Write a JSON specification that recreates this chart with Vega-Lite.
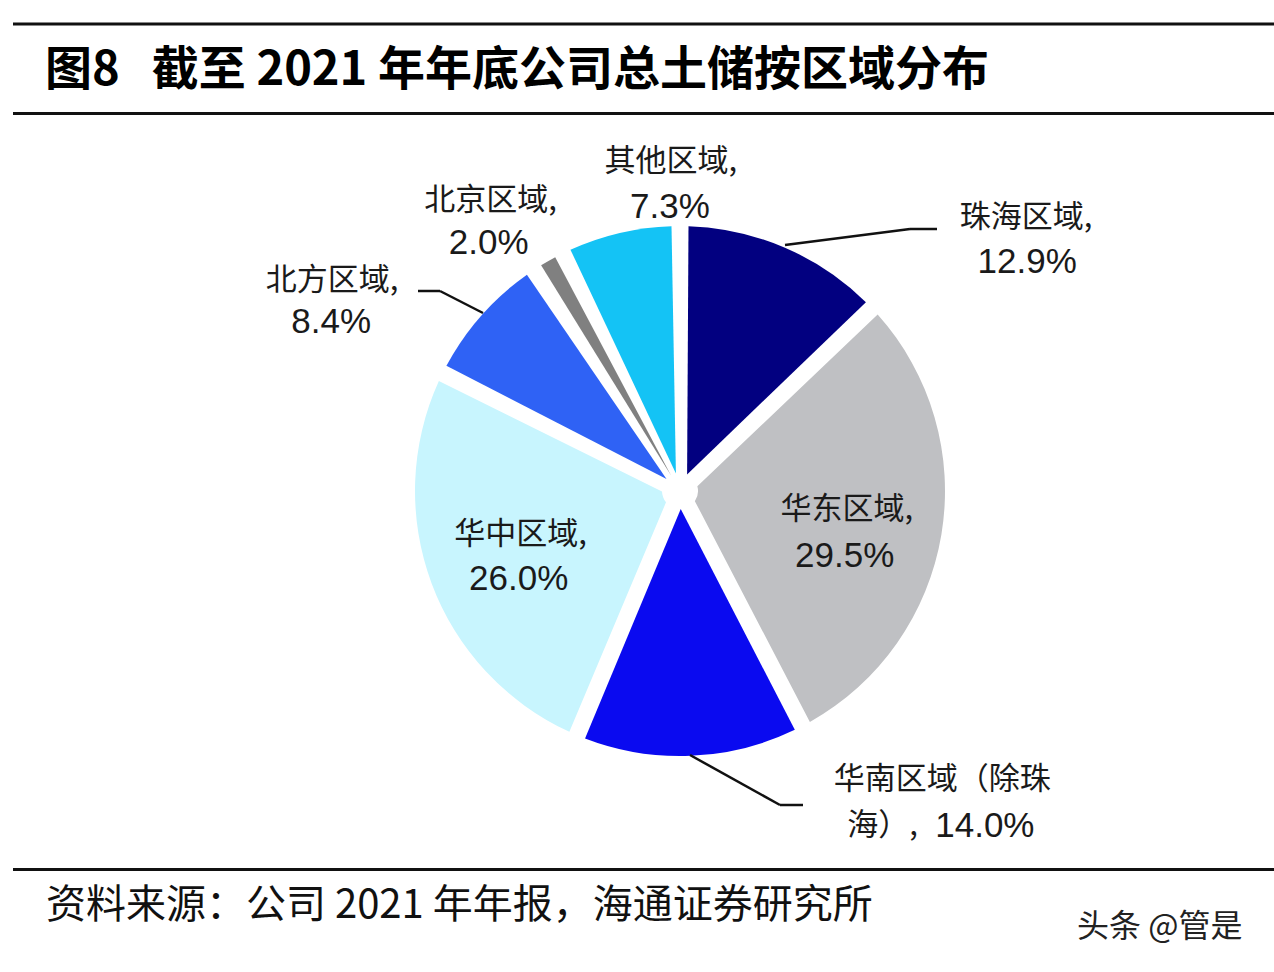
{
  "$schema": "https://vega.github.io/schema/vega-lite/v6.json",
  "width": 1274,
  "height": 972,
  "autosize": "none",
  "padding": 0,
  "background": "#ffffff",
  "config": {"view": {"stroke": null}},
  "data": {
    "values": [
      {"region": "珠海区域", "order": 1, "value": 12.9, "line1": "珠海区域,", "pct": "12.9%"},
      {"region": "华东区域", "order": 2, "value": 29.5, "line1": "华东区域,", "pct": "29.5%"},
      {"region": "华南区域（除珠海）", "order": 3, "value": 14.0, "line1": "华南区域（除珠", "line2": "海）,", "pct": "14.0%"},
      {"region": "华中区域", "order": 4, "value": 26.0, "line1": "华中区域,", "pct": "26.0%"},
      {"region": "北方区域", "order": 5, "value": 8.4, "line1": "北方区域,", "pct": "8.4%"},
      {"region": "北京区域", "order": 6, "value": 2.0, "line1": "北京区域,", "pct": "2.0%"},
      {"region": "其他区域", "order": 7, "value": 7.3, "line1": "其他区域,", "pct": "7.3%"}
    ]
  },
  "layer": [
    {
      "mark": {"type": "arc", "outerRadius": 265, "innerRadius": 18, "padAngle": 0.064, "stroke": null},
      "encoding": {
        "x": {"value": 680}, "y": {"value": 491},
        "theta": {"field": "value", "type": "quantitative", "stack": true},
        "order": {"field": "order", "type": "quantitative"},
        "color": {
          "field": "region", "type": "nominal", "legend": null,
          "scale": {
            "domain": ["珠海区域", "华东区域", "华南区域（除珠海）", "华中区域", "北方区域", "北京区域", "其他区域"],
            "range": ["#020080", "#bfc0c3", "#0a0af0", "#c8f5fe", "#2f62f5", "#808080", "#14c3f5"]
          }
        }
      }
    },
    {"mark": {"type": "text", "radius": 300, "dx": 228, "dy": 3, "font": "Noto Sans CJK SC", "fontSize": 31, "fill": "#1a1a1a", "align": "center", "baseline": "middle"},
     "encoding": {"x": {"value": 680}, "y": {"value": 491}, "theta": {"field": "value", "type": "quantitative", "stack": true}, "order": {"field": "order", "type": "quantitative"},
       "text": {"condition": {"test": "datum.region === '珠海区域'", "field": "line1", "type": "nominal"}, "value": ""}}},
    {"mark": {"type": "text", "radius": 300, "dx": 229, "dy": 47, "font": "Liberation Sans", "fontSize": 35, "fill": "#1a1a1a", "align": "center", "baseline": "middle"},
     "encoding": {"x": {"value": 680}, "y": {"value": 491}, "theta": {"field": "value", "type": "quantitative", "stack": true}, "order": {"field": "order", "type": "quantitative"},
       "text": {"condition": {"test": "datum.region === '珠海区域'", "field": "pct", "type": "nominal"}, "value": ""}}},
    {"mark": {"type": "text", "radius": 170, "dx": -1, "dy": -9, "font": "Noto Sans CJK SC", "fontSize": 31, "fill": "#1a1a1a", "align": "center", "baseline": "middle"},
     "encoding": {"x": {"value": 680}, "y": {"value": 491}, "theta": {"field": "value", "type": "quantitative", "stack": true}, "order": {"field": "order", "type": "quantitative"},
       "text": {"condition": {"test": "datum.region === '华东区域'", "field": "line1", "type": "nominal"}, "value": ""}}},
    {"mark": {"type": "text", "radius": 170, "dx": -3, "dy": 37, "font": "Liberation Sans", "fontSize": 35, "fill": "#1a1a1a", "align": "center", "baseline": "middle"},
     "encoding": {"x": {"value": 680}, "y": {"value": 491}, "theta": {"field": "value", "type": "quantitative", "stack": true}, "order": {"field": "order", "type": "quantitative"},
       "text": {"condition": {"test": "datum.region === '华东区域'", "field": "pct", "type": "nominal"}, "value": ""}}},
    {"mark": {"type": "text", "radius": 300, "dx": 250, "dy": -11, "font": "Noto Sans CJK SC", "fontSize": 31, "fill": "#1a1a1a", "align": "center", "baseline": "middle"},
     "encoding": {"x": {"value": 680}, "y": {"value": 491}, "theta": {"field": "value", "type": "quantitative", "stack": true}, "order": {"field": "order", "type": "quantitative"},
       "text": {"condition": {"test": "datum.region === '华南区域（除珠海）'", "field": "line1", "type": "nominal"}, "value": ""}}},
    {"mark": {"type": "text", "radius": 300, "dx": 155, "dy": 35, "font": "Noto Sans CJK SC", "fontSize": 31, "fill": "#1a1a1a", "align": "left", "baseline": "middle"},
     "encoding": {"x": {"value": 680}, "y": {"value": 491}, "theta": {"field": "value", "type": "quantitative", "stack": true}, "order": {"field": "order", "type": "quantitative"},
       "text": {"condition": {"test": "datum.region === '华南区域（除珠海）'", "field": "line2", "type": "nominal"}, "value": ""}}},
    {"mark": {"type": "text", "radius": 300, "dx": 243, "dy": 35, "font": "Liberation Sans", "fontSize": 35, "fill": "#1a1a1a", "align": "left", "baseline": "middle"},
     "encoding": {"x": {"value": 680}, "y": {"value": 491}, "theta": {"field": "value", "type": "quantitative", "stack": true}, "order": {"field": "order", "type": "quantitative"},
       "text": {"condition": {"test": "datum.region === '华南区域（除珠海）'", "field": "pct", "type": "nominal"}, "value": ""}}},
    {"mark": {"type": "text", "radius": 170, "dx": 0, "dy": -15, "font": "Noto Sans CJK SC", "fontSize": 31, "fill": "#1a1a1a", "align": "center", "baseline": "middle"},
     "encoding": {"x": {"value": 680}, "y": {"value": 491}, "theta": {"field": "value", "type": "quantitative", "stack": true}, "order": {"field": "order", "type": "quantitative"},
       "text": {"condition": {"test": "datum.region === '华中区域'", "field": "line1", "type": "nominal"}, "value": ""}}},
    {"mark": {"type": "text", "radius": 170, "dx": -2, "dy": 29, "font": "Liberation Sans", "fontSize": 35, "fill": "#1a1a1a", "align": "center", "baseline": "middle"},
     "encoding": {"x": {"value": 680}, "y": {"value": 491}, "theta": {"field": "value", "type": "quantitative", "stack": true}, "order": {"field": "order", "type": "quantitative"},
       "text": {"condition": {"test": "datum.region === '华中区域'", "field": "pct", "type": "nominal"}, "value": ""}}},
    {"mark": {"type": "text", "radius": 300, "dx": -123, "dy": -11, "font": "Noto Sans CJK SC", "fontSize": 31, "fill": "#1a1a1a", "align": "center", "baseline": "middle"},
     "encoding": {"x": {"value": 680}, "y": {"value": 491}, "theta": {"field": "value", "type": "quantitative", "stack": true}, "order": {"field": "order", "type": "quantitative"},
       "text": {"condition": {"test": "datum.region === '北方区域'", "field": "line1", "type": "nominal"}, "value": ""}}},
    {"mark": {"type": "text", "radius": 300, "dx": -124, "dy": 30, "font": "Liberation Sans", "fontSize": 35, "fill": "#1a1a1a", "align": "center", "baseline": "middle"},
     "encoding": {"x": {"value": 680}, "y": {"value": 491}, "theta": {"field": "value", "type": "quantitative", "stack": true}, "order": {"field": "order", "type": "quantitative"},
       "text": {"condition": {"test": "datum.region === '北方区域'", "field": "pct", "type": "nominal"}, "value": ""}}},
    {"mark": {"type": "text", "radius": 300, "dx": -40, "dy": -30, "font": "Noto Sans CJK SC", "fontSize": 31, "fill": "#1a1a1a", "align": "center", "baseline": "middle"},
     "encoding": {"x": {"value": 680}, "y": {"value": 491}, "theta": {"field": "value", "type": "quantitative", "stack": true}, "order": {"field": "order", "type": "quantitative"},
       "text": {"condition": {"test": "datum.region === '北京区域'", "field": "line1", "type": "nominal"}, "value": ""}}},
    {"mark": {"type": "text", "radius": 300, "dx": -42, "dy": 12, "font": "Liberation Sans", "fontSize": 35, "fill": "#1a1a1a", "align": "center", "baseline": "middle"},
     "encoding": {"x": {"value": 680}, "y": {"value": 491}, "theta": {"field": "value", "type": "quantitative", "stack": true}, "order": {"field": "order", "type": "quantitative"},
       "text": {"condition": {"test": "datum.region === '北京区域'", "field": "pct", "type": "nominal"}, "value": ""}}},
    {"mark": {"type": "text", "radius": 300, "dx": 59, "dy": -37, "font": "Noto Sans CJK SC", "fontSize": 31, "fill": "#1a1a1a", "align": "center", "baseline": "middle"},
     "encoding": {"x": {"value": 680}, "y": {"value": 491}, "theta": {"field": "value", "type": "quantitative", "stack": true}, "order": {"field": "order", "type": "quantitative"},
       "text": {"condition": {"test": "datum.region === '其他区域'", "field": "line1", "type": "nominal"}, "value": ""}}},
    {"mark": {"type": "text", "radius": 300, "dx": 58, "dy": 8, "font": "Liberation Sans", "fontSize": 35, "fill": "#1a1a1a", "align": "center", "baseline": "middle"},
     "encoding": {"x": {"value": 680}, "y": {"value": 491}, "theta": {"field": "value", "type": "quantitative", "stack": true}, "order": {"field": "order", "type": "quantitative"},
       "text": {"condition": {"test": "datum.region === '其他区域'", "field": "pct", "type": "nominal"}, "value": ""}}},
    {"data": {"values": [{}]}, "mark": {"type": "rule", "stroke": "#111111", "strokeWidth": 2.5}, "encoding": {"x": {"value": 785}, "y": {"value": 245}, "x2": {"value": 910}, "y2": {"value": 229}}},
    {"data": {"values": [{}]}, "mark": {"type": "rule", "stroke": "#111111", "strokeWidth": 2.5}, "encoding": {"x": {"value": 910}, "y": {"value": 229}, "x2": {"value": 937}, "y2": {"value": 229}}},
    {"data": {"values": [{}]}, "mark": {"type": "rule", "stroke": "#111111", "strokeWidth": 2.5}, "encoding": {"x": {"value": 418}, "y": {"value": 291}, "x2": {"value": 440}, "y2": {"value": 291}}},
    {"data": {"values": [{}]}, "mark": {"type": "rule", "stroke": "#111111", "strokeWidth": 2.5}, "encoding": {"x": {"value": 440}, "y": {"value": 291}, "x2": {"value": 483}, "y2": {"value": 313}}},
    {"data": {"values": [{}]}, "mark": {"type": "rule", "stroke": "#111111", "strokeWidth": 2.5}, "encoding": {"x": {"value": 690}, "y": {"value": 755}, "x2": {"value": 780}, "y2": {"value": 805}}},
    {"data": {"values": [{}]}, "mark": {"type": "rule", "stroke": "#111111", "strokeWidth": 2.5}, "encoding": {"x": {"value": 780}, "y": {"value": 805}, "x2": {"value": 803}, "y2": {"value": 805}}},
    {"data": {"values": [{}]}, "mark": {"type": "rule", "stroke": "#111111", "strokeWidth": 3}, "encoding": {"x": {"value": 13}, "y": {"value": 24}, "x2": {"value": 1274}, "y2": {"value": 24}}},
    {"data": {"values": [{}]}, "mark": {"type": "rule", "stroke": "#111111", "strokeWidth": 3}, "encoding": {"x": {"value": 13}, "y": {"value": 113.5}, "x2": {"value": 1274}, "y2": {"value": 113.5}}},
    {"data": {"values": [{}]}, "mark": {"type": "rule", "stroke": "#111111", "strokeWidth": 3}, "encoding": {"x": {"value": 13}, "y": {"value": 869.5}, "x2": {"value": 1274}, "y2": {"value": 869.5}}},
    {"data": {"values": [{}]}, "mark": {"type": "text", "text": "图8\u00a0\u00a0\u00a0截至 2021 年年底公司总土储按区域分布", "font": "Noto Sans CJK SC", "fontSize": 47, "fontWeight": "bold", "fill": "#000000", "align": "left", "baseline": "middle"},
     "encoding": {"x": {"value": 45}, "y": {"value": 71}}},
    {"data": {"values": [{}]}, "mark": {"type": "text", "text": "资料来源：公司 2021 年年报，海通证券研究所", "font": "Noto Sans CJK SC", "fontSize": 40, "fill": "#111111", "align": "left", "baseline": "middle"},
     "encoding": {"x": {"value": 46}, "y": {"value": 906}}},
    {"data": {"values": [{}]}, "mark": {"type": "text", "text": "头条 @管是", "font": "Noto Sans CJK SC", "fontSize": 32, "fill": "#222222", "align": "left", "baseline": "middle"},
     "encoding": {"x": {"value": 1077}, "y": {"value": 927}}}
  ]
}
